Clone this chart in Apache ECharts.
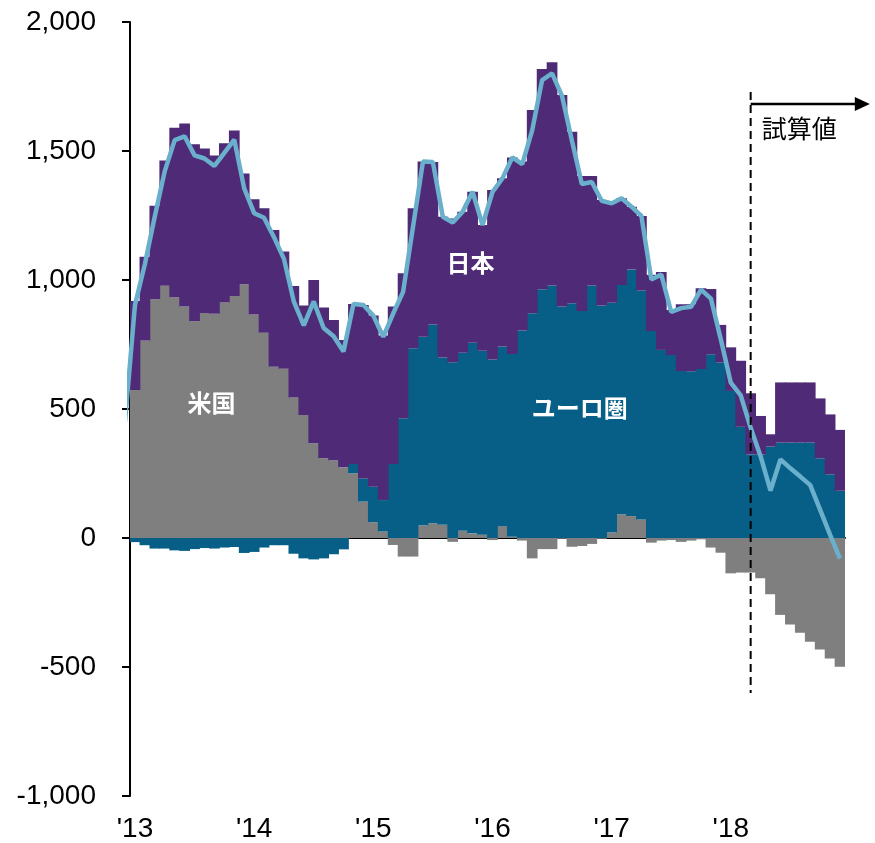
<!DOCTYPE html>
<html>
<head>
<meta charset="utf-8">
<script src="https://cdn.jsdelivr.net/npm/echarts@6/dist/echarts.min.js"></script>
<style>
  html, body { margin: 0; padding: 0; background: #fff; }
  #chart { width: 875px; height: 843px; }
</style>
</head>
<body>
<div id="chart"></div>
<script>
const years = ['13', '14', '15', '16', '17', '18'];
const months = [];
years.forEach(y => {
    for (let m = 1; m <= 12; m++) months.push('20' + y + '-' + String(m).padStart(2, '0'));
});

// 米国
const usData = [
    574, 765, 925, 978, 933, 897, 840, 872, 869, 913, 938, 984,
    866, 796, 664, 656, 545, 477, 367, 309, 300, 274, 251, 141,
    61, 25, -27, -72, -72, 48, 57, 51, -15, 28, 18, 13,
    -8, 46, 5, -10, -79, -43, -43, -3, -34, -31, -23, -3,
    21, 92, 85, 72, -18, -10, -8, -15, -10, -5, -37, -57,
    -137, -134, -134, -156, -218, -298, -335, -367, -402, -432, -467, -499
];
// ユーロ圏
const euroData = [
    -16, -28, -41, -41, -48, -50, -43, -39, -41, -37, -35, -58,
    -54, -37, -28, -28, -61, -79, -83, -79, -63, -44, 36, 90,
    138, 122, 287, 464, 735, 732, 771, 649, 681, 690, 739, 713,
    692, 696, 708, 804, 871, 964, 979, 897, 910, 880, 979, 901,
    891, 889, 956, 887, 802, 729, 709, 647, 646, 655, 712, 680,
    570, 431, 324, 324, 354, 370, 370, 370, 370, 309, 247, 183
];
// 日本
const japanData = [
    345, 325, 363, 485, 657, 710, 686, 638, 614, 617, 641, 429,
    447, 482, 530, 454, 432, 424, 633, 584, 545, 493, 620, 672,
    663, 638, 610, 562, 543, 679, 629, 545, 557, 547, 585, 487,
    657, 652, 762, 655, 788, 854, 865, 820, 665, 523, 424, 409,
    385, 336, 243, 289, 218, 302, 175, 259, 260, 313, 253, 146,
    169, 256, 237, 149, 48, 233, 233, 233, 233, 232, 232, 236
];
// 合計 (starts at Dec 2012, clipped by the grid)
const totalLine = [
    450,
    903, 1062, 1247, 1422, 1542, 1557, 1483, 1471, 1442, 1493, 1544, 1355,
    1259, 1241, 1166, 1082, 916, 824, 917, 814, 782, 723, 907, 903,
    862, 780, 870, 954, 1206, 1459, 1457, 1245, 1223, 1265, 1342, 1213,
    1341, 1394, 1475, 1449, 1580, 1775, 1801, 1714, 1541, 1372, 1380, 1307,
    1297, 1317, 1284, 1248, 1002, 1021, 876, 891, 896, 963, 928, 769,
    602, 553, 427, 317, 184, 305, 270, 238, 205, 109, 12, -80
];

const font = '"Liberation Sans", Arial, sans-serif';
const jpFont = '"Noto Sans CJK JP", sans-serif';
const isJan = i => i % 12 === 0;

const chart = echarts.init(document.getElementById('chart'));
chart.setOption({
    animation: false,
    textStyle: { fontFamily: font },
    grid: { left: 130, right: 30, top: 22, bottom: 47 },
    xAxis: [
        {
            type: 'category',
            data: months,
            axisLine: { onZero: true, lineStyle: { color: '#000', width: 2 } },
            axisTick: { interval: isJan, length: 7, lineStyle: { color: '#000', width: 2 } },
            axisLabel: { show: false }
        },
        { type: 'value', min: -0.5, max: 71.5, show: false },
        {
            type: 'category',
            data: months,
            position: 'bottom',
            axisLine: { show: false, onZero: false },
            axisTick: { show: false },
            axisLabel: {
                interval: isJan,
                fontSize: 28,
                color: '#000',
                margin: 19,
                formatter: v => "'" + v.slice(2, 4)
            }
        }
    ],
    yAxis: {
        type: 'value',
        min: -1000,
        max: 2000,
        interval: 500,
        splitLine: { show: false },
        axisLine: { show: true, onZero: false, lineStyle: { color: '#000', width: 2 } },
        axisTick: { show: true, length: 8, lineStyle: { color: '#000', width: 2 } },
        axisLabel: {
            fontSize: 28,
            color: '#000',
            margin: 34,
            formatter: v => v.toLocaleString('en-US')
        }
    },
    series: [
        { name: '米国', type: 'bar', stack: 'all', barWidth: '108%', itemStyle: { color: '#7f7f7f' }, data: usData },
        { name: 'ユーロ圏', type: 'bar', stack: 'all', barWidth: '108%', itemStyle: { color: '#075f88' }, data: euroData },
        { name: '日本', type: 'bar', stack: 'all', barWidth: '108%', itemStyle: { color: '#4f2a77' }, data: japanData },
        {
            name: '合計',
            type: 'line',
            xAxisIndex: 1,
            showSymbol: false,
            z: 5,
            lineStyle: { color: '#6aafcc', width: 4.5 },
            data: totalLine.map((v, i) => [i - 1, v])
        }
    ]
});

// annotations placed in data coordinates of the line series
const px = p => chart.convertToPixel({ seriesIndex: 3 }, p);
const dashTop = px([62, 1729]), dashBot = px([62, -601]);
const arrL = px([62, 1682]), arrR = px([74, 1682]);
const label = (text, pos, color, weight, size) => {
    const p = px(pos);
    return {
        type: 'text', x: p[0], y: p[1], z: 10,
        style: { text: text, fill: color, fontSize: size, fontWeight: weight, fontFamily: jpFont, align: 'center', verticalAlign: 'middle' }
    };
};
chart.setOption({
    graphic: [
        {
            type: 'line', z: 10,
            shape: { x1: dashTop[0], y1: dashTop[1], x2: dashBot[0], y2: dashBot[1] },
            style: { stroke: '#000', lineWidth: 2, lineDash: [8, 5] }
        },
        {
            type: 'line', z: 10,
            shape: { x1: arrL[0], y1: arrL[1], x2: arrR[0] - 12, y2: arrR[1] },
            style: { stroke: '#000', lineWidth: 2.5 }
        },
        {
            type: 'polygon', z: 10,
            shape: { points: [[arrR[0] - 15, arrR[1] - 7], [arrR[0], arrR[1]], [arrR[0] - 15, arrR[1] + 7]] },
            style: { fill: '#000' }
        },
        label('米国', [7.7, 523], '#fff', 'bold', 24),
        label('日本', [33.8, 1066], '#fff', 'bold', 24),
        label('ユーロ圏', [44.8, 504], '#fff', 'bold', 24),
        label('試算値', [66.9, 1587], '#000', 'normal', 25)
    ]
});
</script>
</body>
</html>
